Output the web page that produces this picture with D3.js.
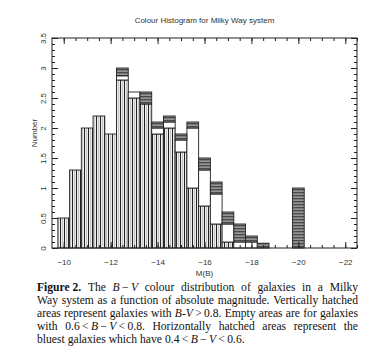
<!DOCTYPE html>
<html>
<head>
<meta charset="utf-8">
<script src="https://cdn.jsdelivr.net/npm/d3@7"></script>
<style>
  body { margin: 0; background: #fff; }
  .plot text { font-family: "Liberation Sans", Arial, sans-serif; fill: #333; }
  .axis path { display: none; }
  .axis line { stroke: #222; }
  .caption text { font-family: "Liberation Serif", "Times New Roman", serif; fill: #111; }
</style>
</head>
<body>
<script>
// bin centres in M(B), bin width 0.5 mag
var centers = [-10, -10.5, -11, -11.5, -12, -12.5, -13, -13.5, -14, -14.5, -15, -15.5, -16, -16.5, -17, -17.5, -18, -18.5, -20];
// B-V > 0.8 (vertical hatch)
var redCounts = [0.5, 1.3, 2.0, 2.2, 1.9, 2.8, 2.5, 2.4, 1.9, 2.0, 1.6, 1.0, 0.7, 0.4, 0.1, 0, 0, 0, 0];
// 0.6 < B-V < 0.8 (empty)
var midCounts = [0, 0, 0, 0, 0, 0.07, 0.1, 0, 0.1, 0.1, 0.2, 1.0, 0.6, 0.5, 0.3, 0.1, 0.1, 0, 0];
// 0.4 < B-V < 0.6 (horizontal hatch)
var blueCounts = [0, 0, 0, 0, 0, 0.13, 0, 0.2, 0.1, 0.1, 0.1, 0.1, 0.2, 0.2, 0.2, 0.3, 0.1, 0.08, 1.0];
var xTicks = [-10, -12, -14, -16, -18, -20, -22];
var yTicks = [0, 0.5, 1, 1.5, 2, 2.5, 3, 3.5];

var width = 378, height = 361;
var plot = { left: 52, right: 357, top: 38, bottom: 248 };
var binW = 0.5;

var svg = d3.select('body').append('svg')
  .attr('width', width)
  .attr('height', height);

var x = d3.scaleLinear()
  .domain([-9.5, -22.5])
  .range([plot.left, plot.right]);

var y = d3.scaleLinear()
  .domain([0, 3.5])
  .range([plot.bottom, plot.top]);

// hatch patterns
var defs = svg.append('defs');
var vp = defs.append('pattern')
  .attr('id', 'vhatch')
  .attr('patternUnits', 'userSpaceOnUse')
  .attr('width', 4).attr('height', 4);
vp.append('rect').attr('width', 4).attr('height', 4).attr('fill', '#ececec');
vp.append('rect').attr('x', 0).attr('width', 1).attr('height', 4).attr('fill', '#222');
vp.append('rect').attr('x', 2).attr('width', 1).attr('height', 4).attr('fill', '#c4c4c4');

var hp = defs.append('pattern')
  .attr('id', 'hhatch')
  .attr('patternUnits', 'userSpaceOnUse')
  .attr('width', 4).attr('height', 3);
hp.append('rect').attr('width', 4).attr('height', 3).attr('fill', '#7a7a7a');
hp.append('rect').attr('y', 0).attr('width', 4).attr('height', 1).attr('fill', '#4a4a4a');
hp.append('rect').attr('y', 2).attr('width', 4).attr('height', 1).attr('fill', '#969696');

var data = centers.map(function(c, i) {
  return { c: c, red: redCounts[i], mid: midCounts[i], blue: blueCounts[i] };
});

var stack = d3.stack().keys(['red', 'mid', 'blue']);
var fills = { red: 'url(#vhatch)', mid: '#fff', blue: 'url(#hhatch)' };

var g = svg.append('g').attr('class', 'plot');

g.selectAll('g.layer')
  .data(stack(data))
  .enter().append('g')
    .attr('class', 'layer')
    .attr('fill', function(d) { return fills[d.key]; })
  .selectAll('rect')
  .data(function(d) { return d.filter(function(s) { return s[1] - s[0] > 0; }); })
  .enter().append('rect')
    .attr('x', function(d) { return x(d.data.c + binW / 2); })
    .attr('width', function(d) { return x(d.data.c - binW / 2) - x(d.data.c + binW / 2); })
    .attr('y', function(d) { return y(d[1]); })
    .attr('height', function(d) { return y(d[0]) - y(d[1]); })
    .attr('stroke', '#222')
    .attr('stroke-width', 0.9);

// frame
g.append('rect')
  .attr('x', plot.left).attr('y', plot.top)
  .attr('width', plot.right - plot.left)
  .attr('height', plot.bottom - plot.top)
  .attr('fill', 'none')
  .attr('stroke', '#222')
  .attr('stroke-width', 1);

var xMinor = d3.range(-10, -22.6, -0.5);
var yMinor = d3.range(0, 3.51, 0.1);

// bottom axis
g.append('g').attr('class', 'axis')
  .attr('transform', 'translate(0,' + plot.bottom + ')')
  .call(d3.axisBottom(x).tickValues(xMinor).tickSize(-3).tickFormat(''));
var xb = g.append('g').attr('class', 'axis')
  .attr('transform', 'translate(0,' + plot.bottom + ')')
  .call(d3.axisBottom(x).tickValues(xTicks).tickSize(-6).tickPadding(11)
    .tickFormat(function(d) { return '\u2212' + Math.abs(d); }));
xb.selectAll('text').attr('font-size', 8).attr('fill', '#333').attr('font-family', 'Liberation Sans, sans-serif');

// top axis
g.append('g').attr('class', 'axis')
  .attr('transform', 'translate(0,' + plot.top + ')')
  .call(d3.axisTop(x).tickValues(xMinor).tickSize(-3).tickFormat(''));
g.append('g').attr('class', 'axis')
  .attr('transform', 'translate(0,' + plot.top + ')')
  .call(d3.axisTop(x).tickValues(xTicks).tickSize(-6).tickFormat(''));

// left axis
g.append('g').attr('class', 'axis')
  .attr('transform', 'translate(' + plot.left + ',0)')
  .call(d3.axisLeft(y).tickValues(yMinor).tickSize(-3).tickFormat(''));
var yl = g.append('g').attr('class', 'axis')
  .attr('transform', 'translate(' + plot.left + ',0)')
  .call(d3.axisLeft(y).tickValues(yTicks).tickSize(-6).tickFormat(d3.format('')));
yl.selectAll('text')
  .attr('transform', 'rotate(-90)')
  .attr('x', 0).attr('y', -6).attr('dy', 0)
  .attr('text-anchor', 'middle')
  .attr('font-size', 8).attr('fill', '#333').attr('font-family', 'Liberation Sans, sans-serif');

// right axis
g.append('g').attr('class', 'axis')
  .attr('transform', 'translate(' + plot.right + ',0)')
  .call(d3.axisRight(y).tickValues(yMinor).tickSize(-3).tickFormat(''));
g.append('g').attr('class', 'axis')
  .attr('transform', 'translate(' + plot.right + ',0)')
  .call(d3.axisRight(y).tickValues(yTicks).tickSize(-6).tickFormat(''));

// titles
g.append('text')
  .attr('x', (plot.left + plot.right) / 2).attr('y', 23)
  .attr('text-anchor', 'middle')
  .attr('font-size', 8)
  .text('Colour Histogram for Milky Way system');

g.append('text')
  .attr('x', (plot.left + plot.right) / 2).attr('y', 276)
  .attr('text-anchor', 'middle')
  .attr('font-size', 8)
  .text('M(B)');

g.append('text')
  .attr('transform', 'translate(37,133) rotate(-90)')
  .attr('text-anchor', 'middle')
  .attr('font-size', 8)
  .text('Number');

// caption, justified line by line; math kept as one unit with fixed spacing
var sp = '\u2009';
var captionLines = [
  [[['Figure 2.', 'b']], [['The']], [['B', 'i'], [sp + '\u2212' + sp], ['V', 'i']], [['colour']], [['distribution']], [['of']], [['galaxies']], [['in']], [['a']], [['Milky']]],
  [[['Way']], [['system']], [['as']], [['a']], [['function']], [['of']], [['absolute']], [['magnitude.']], [['Vertically']], [['hatched']]],
  [[['areas']], [['represent']], [['galaxies']], [['with']], [['B-V', 'i'], [sp + '>' + sp + '0.8.']], [['Empty']], [['areas']], [['are']], [['for']], [['galaxies']]],
  [[['with']], [['0.6' + sp + '<' + sp], ['B', 'i'], [sp + '\u2212' + sp], ['V', 'i'], [sp + '<' + sp + '0.8.']], [['Horizontally']], [['hatched']], [['areas']], [['represent']], [['the']]],
  [[['bluest']], [['galaxies']], [['which']], [['have']], [['0.4' + sp + '<' + sp], ['B', 'i'], [sp + '\u2212' + sp], ['V', 'i'], [sp + '<' + sp + '0.6.']]]
];
var capLeft = 37, capRight = 358, capTop = 291, capStep = 13, capSize = 11.6;

var cap = svg.append('g').attr('class', 'caption');
captionLines.forEach(function(words, li) {
  var t = cap.append('text')
    .attr('y', capTop + li * capStep)
    .attr('font-size', capSize);
  var widths = words.map(function(w) {
    var m = cap.append('text').attr('font-size', capSize);
    w.forEach(function(p) {
      m.append('tspan')
        .attr('font-weight', p[1] === 'b' ? 'bold' : null)
        .attr('font-style', p[1] === 'i' ? 'italic' : null)
        .text(p[0]);
    });
    var wd = m.node().getComputedTextLength();
    m.remove();
    return wd;
  });
  var total = d3.sum(widths);
  var last = li === captionLines.length - 1;
  var gap = last ? 3 : (capRight - capLeft - total) / (words.length - 1);
  var xpos = capLeft;
  words.forEach(function(w, wi) {
    w.forEach(function(p, pi) {
      var ts = t.append('tspan')
        .attr('font-weight', p[1] === 'b' ? 'bold' : null)
        .attr('font-style', p[1] === 'i' ? 'italic' : null)
        .text(p[0]);
      if (pi === 0) ts.attr('x', xpos);
    });
    xpos += widths[wi] + gap;
  });
});
</script>
</body>
</html>
